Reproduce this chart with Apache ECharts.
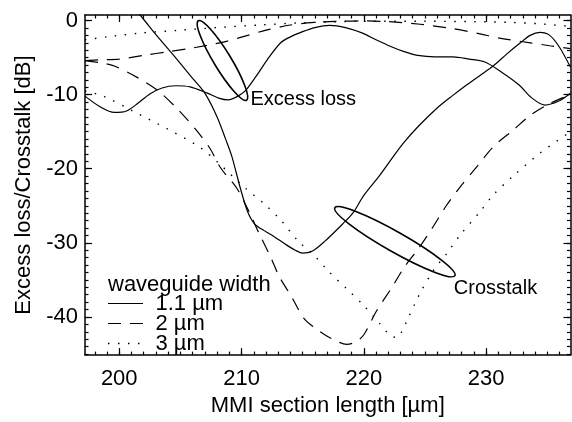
<!DOCTYPE html>
<html><head><meta charset="utf-8">
<script src="https://cdn.jsdelivr.net/npm/echarts@6/dist/echarts.min.js"></script>
<style>html,body{margin:0;padding:0;background:#fff}#c{width:572px;height:422px}</style>
</head><body><div id="c"></div>
<script>
const FONT = '"Liberation Sans", Arial, Helvetica, sans-serif';

// ---- axes / tick labels ----
const xMajorTicks = [200, 210, 220, 230];
const yMajorTicks = [-40, -30, -20, -10, 0];
const xRange = [197.2, 236.9];
const yRange = [-45.15, 0.75];
const xTitle = 'MMI section length [µm]';
const yTitle = 'Excess loss/Crosstalk [dB]';

// ---- series values [MMI length (µm), dB] ----
const loss11 = [[197.2,-10.2],[198.4,-11.6],[199.6,-12.4],[200.6,-12.2],[201.5,-11.2],[202.5,-9.9],[203.5,-9.1],[204.6,-8.8],[205.8,-8.95],[207.2,-9.8],[208.2,-10.5],[208.9,-10.7],[209.6,-10.3],[210.3,-9.5],[211.2,-7.5],[212.1,-5.3],[213.2,-3.0],[214,-2.2],[215,-1.5],[216,-0.95],[217.2,-0.65],[218.5,-0.95],[219.9,-1.7],[221,-2.6],[222.2,-3.5],[223.3,-4.2],[224.4,-4.7],[225.8,-4.9],[227.3,-4.9],[228.6,-5.2],[229.9,-5.6],[231.3,-7.0],[232.7,-8.7],[233.7,-10.4],[234.8,-11.4],[235.9,-10.9],[236.9,-9.8]];
const xtalk11 = [[201.4,1.2],[201.7,0.75],[203,-1.9],[204.5,-4.8],[206,-7.8],[207,-9.8],[208,-13.0],[208.7,-16.0],[209.2,-18.3],[209.9,-22.6],[210.5,-25.8],[211.1,-27.5],[212,-28.5],[212.7,-29.2],[213.6,-30.2],[214.4,-31.0],[215.0,-31.4],[215.8,-31.1],[216.8,-29.8],[218.3,-27.4],[219.1,-26.0],[220,-23.6],[221.3,-20.9],[222.3,-18.6],[223.2,-16.6],[224.5,-14.2],[226,-11.8],[227.2,-10.2],[228.4,-8.7],[229.5,-7.4],[230.6,-6.1],[231.7,-4.5],[232.8,-3.0],[233.6,-2.0],[234.4,-1.6],[235.2,-2.0],[236,-3.6],[236.9,-6.3]];
const loss20 = [[197.2,-5.4],[198.5,-5.3],[200,-5.2],[202,-4.7],[204,-4.2],[206,-3.7],[208.5,-2.9],[210.5,-2.0],[212,-1.3],[214,-0.6],[216,-0.25],[218,-0.1],[220,-0.05],[222,-0.15],[224.6,-0.5],[227.3,-1.1],[229.5,-1.8],[231.2,-2.4],[233.6,-3.0],[235.2,-3.4],[236.9,-3.8]];
const xtalk20 = [[197.2,-5.4],[198.5,-5.7],[199.7,-6.2],[201.5,-7.7],[203.2,-9.5],[204.8,-12.0],[206.2,-14.6],[207.4,-17.2],[208.3,-19.9],[209.6,-22.6],[210.5,-25.4],[211.4,-28.6],[212.4,-32.0],[213.1,-34.6],[214.1,-37.3],[215.1,-40.2],[216,-41.5],[216.8,-42.4],[217.8,-43.3],[218.6,-43.7],[219.3,-43.4],[220,-42.4],[221,-39.3],[222.3,-36.0],[223.3,-33.3],[224.5,-30.7],[225.6,-28.0],[226.7,-25.1],[227.9,-22.4],[229.3,-19.6],[230.6,-17.0],[232.2,-14.8],[233.6,-12.8],[235.2,-11.2],[236.9,-10.0]];
const loss30 = [[197.2,-2.6],[199,-2.2],[201.7,-1.7],[205,-1.3],[208,-0.95],[211.5,-0.6],[215,-0.3],[220,-0.1],[225,-0.1],[229,-0.15],[232,-0.25],[234.5,-0.45],[236.9,-0.8]];
const xtalk30 = [[197.2,-9.5],[198.7,-10.2],[201.1,-12.2],[203.9,-14.6],[206.6,-17.1],[208.1,-19.2],[210.3,-22.6],[211.9,-24.8],[213.3,-27.1],[214.6,-29.7],[216,-31.8],[217.2,-34.0],[218.6,-36.2],[219.9,-38.3],[221.3,-40.9],[222.1,-42.4],[222.7,-42.8],[223.1,-42.0],[223.5,-40.6],[224.6,-36.8],[225.7,-33.7],[226.8,-31.4],[227.9,-28.9],[229.5,-25.8],[230.6,-23.5],[232.2,-21.0],[234.4,-17.9],[236.9,-15.0]];

const widthNames = ['1.1 µm', '2 µm', '3 µm'];
const legendTitle = 'waveguide width';
const annotationTexts = ['Excess loss', 'Crosstalk'];

// ---- styling / layout (not data) ----
const dashPatterns = ['solid', [13, 9], [1.5, 8.5]];
const lineWidths = [1.2, 1.2, 1.4];
const annotationAnchors = [[210.73, -10.62], [227.36, -36.19]];
const ellipseSpecs = [
  { center: [208.44, -5.39], rx: 46.5, ry: 8.6, angle: 58.7 },
  { center: [222.54, -29.85], rx: 69, ry: 10, angle: 29.5 }
];
const legendBox = { left: 108, sample: 35, textX: 155.5, titleY: 284.5, rowY: [304, 324, 344] };

const xMinor = []; for (let v = Math.ceil(xRange[0]); v <= Math.floor(xRange[1]); v++) xMinor.push(v);
const yMinor = []; for (let v = Math.ceil(yRange[0]); v <= Math.floor(yRange[1]); v++) yMinor.push(v);

const black = '#000';
function axis(dim, position, ticks, len, main, withLabels) {
  const range = dim === 'x' ? xRange : yRange;
  const a = {
    type: 'value', position, min: range[0], max: range[1],
    axisLine: { show: main, onZero: false, lineStyle: { color: black, width: 1.5 } },
    axisTick: { show: true, inside: true, length: len, customValues: ticks, lineStyle: { color: black, width: 1.2 } },
    axisLabel: { show: false },
    splitLine: { show: false },
    axisPointer: { show: false }
  };
  if (withLabels) {
    a.axisLabel = {
      show: true, customValues: ticks, color: black, fontSize: 22, fontFamily: FONT,
      margin: dim === 'x' ? 13 : 7
    };
    a.name = dim === 'x' ? xTitle : yTitle;
    a.nameLocation = 'middle';
    a.nameGap = dim === 'x' ? 31 : 49;
    a.nameTextStyle = { color: black, fontSize: 22, fontFamily: FONT };
  }
  return a;
}

const seriesSets = [[loss11, xtalk11], [loss20, xtalk20], [loss30, xtalk30]];
const series = [];
seriesSets.forEach((pair, i) => {
  pair.forEach(d => series.push({
    type: 'line', name: widthNames[i], data: d, symbol: 'none', smooth: 0.3,
    xAxisIndex: 0, yAxisIndex: 0, clip: true, silent: true,
    lineStyle: { color: black, width: lineWidths[i], type: dashPatterns[i] }
  }));
});

const chart = echarts.init(document.getElementById('c'), null, { renderer: 'canvas' });
chart.setOption({
  animation: false,
  backgroundColor: '#fff',
  textStyle: { fontFamily: FONT },
  grid: { left: 85, right: 1.5, top: 15, bottom: 56, containLabel: false },
  xAxis: [
    axis('x', 'bottom', xMajorTicks, 7, true, true),
    axis('x', 'bottom', xMinor, 3.5, false, false),
    axis('x', 'top', xMajorTicks, 7, true, false),
    axis('x', 'top', xMinor, 3.5, false, false)
  ],
  yAxis: [
    axis('y', 'left', yMajorTicks, 7, true, true),
    axis('y', 'left', yMinor, 3.5, false, false),
    axis('y', 'right', yMajorTicks, 7, true, false),
    axis('y', 'right', yMinor, 3.5, false, false)
  ],
  series
});

const px = p => chart.convertToPixel({ xAxisIndex: 0, yAxisIndex: 0 }, p);
const graphic = [];
ellipseSpecs.forEach(e => {
  const c = px(e.center);
  graphic.push({
    type: 'ellipse', x: c[0], y: c[1], rotation: -e.angle * Math.PI / 180, z: 10,
    shape: { cx: 0, cy: 0, rx: e.rx, ry: e.ry },
    style: { fill: 'none', stroke: black, lineWidth: 1.6 }, silent: true
  });
});
annotationTexts.forEach((t, i) => {
  const p = px(annotationAnchors[i]);
  graphic.push({
    type: 'text', x: p[0], y: p[1], z: 10, silent: true,
    style: { text: t, fill: black, fontSize: 20, fontFamily: FONT, align: 'left', verticalAlign: 'middle' }
  });
});
graphic.push({
  type: 'text', x: legendBox.left, y: legendBox.titleY, z: 10, silent: true,
  style: { text: legendTitle, fill: black, fontSize: 22, fontFamily: FONT, align: 'left', verticalAlign: 'middle' }
});
widthNames.forEach((n, i) => {
  const y = legendBox.rowY[i];
  const dash = dashPatterns[i] === 'solid' ? null : dashPatterns[i];
  graphic.push({
    type: 'line', z: 10, silent: true,
    shape: { x1: legendBox.left, y1: y - 0.5, x2: legendBox.left + legendBox.sample, y2: y - 0.5 },
    style: { stroke: black, lineWidth: lineWidths[i], lineDash: dash }
  });
  graphic.push({
    type: 'text', x: legendBox.textX, y: y, z: 10, silent: true,
    style: { text: n, fill: black, fontSize: 22, fontFamily: FONT, align: 'left', verticalAlign: 'middle' }
  });
});
chart.setOption({ graphic });
</script>
</body></html>
